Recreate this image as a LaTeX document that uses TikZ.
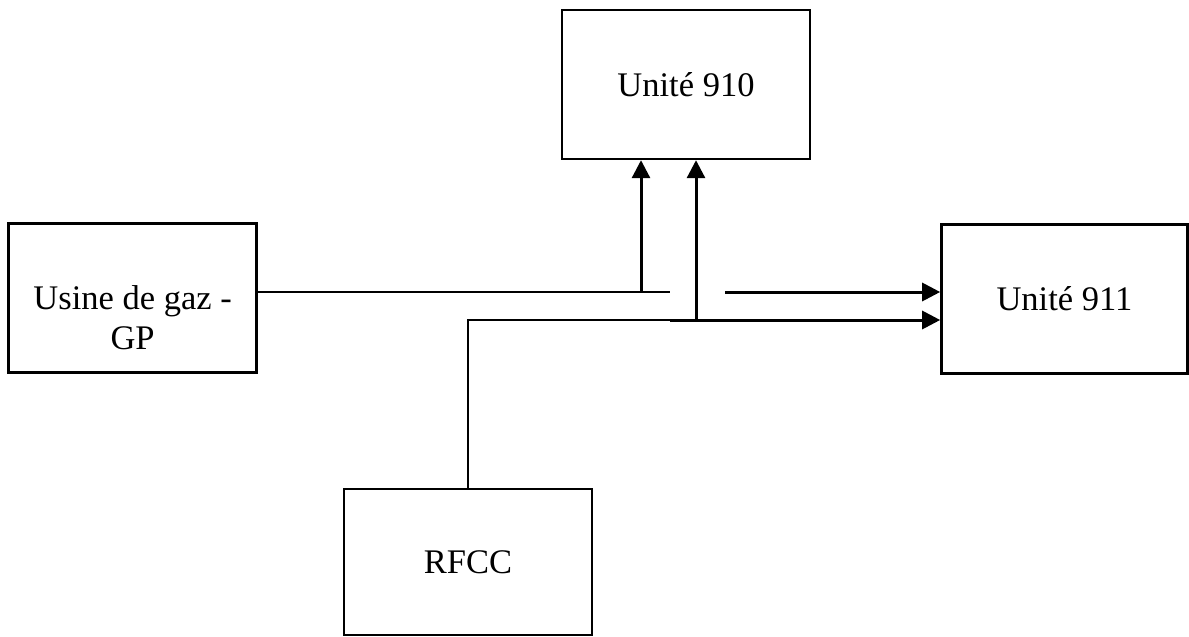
\documentclass[tikz,border=0pt]{standalone}
\usepackage{fontspec}
\setmainfont{Liberation Serif}
\usetikzlibrary{arrows.meta,positioning}
\tikzset{
  boxtxt/.style={align=center,font=\fontsize{17.25pt}{20pt}\selectfont},
  block/.style={draw,line width=1.2pt,minimum width=124pt,minimum height=74.5pt,inner sep=0pt,boxtxt},
  arr/.style={-{Triangle[length=9pt,width=9pt]},line width=1.5pt},
  pipe/.style={line width=1pt}
}

\begin{document}
\begin{tikzpicture}[x=0.5pt,y=-0.5pt]
 \useasboundingbox (0,0) rectangle (1189,637);
 \node[block] (u910) at (686,84.5) {Unité 910};
 \node[block,below left=31pt and 151.5pt of u910,
   label={[name=usinetxt,boxtxt,yshift=-10pt]center:Usine de gaz -\\GP}] (usine) {};
 \node[block,below right=31.5pt and 64.5pt of u910,minimum width=123pt] (u911) {Unité 911};
 \node[block,below right=57pt and 42.5pt of usine,minimum height=73pt] (rfcc) {RFCC};
 % junctions
 \coordinate (gptap) at (641,292);
 \coordinate (gpend) at (670,292);
 \coordinate (gpout) at (725,292);
 \coordinate (fcend) at (670,320);
 \coordinate (fctap) at (696,320);
 \draw[pipe] (usine.east |- gpend) -- (gpend);
 \draw[arr] (gptap) -- (gptap |- u910.south);
 \draw[arr] (gpout) -- (gpout -| u911.west);
 \draw[pipe] (rfcc.north) |- (fcend);
 \draw[arr] (fcend) -- (fcend -| u911.west);
 \draw[arr] (fctap) -- (fctap |- u910.south);
\end{tikzpicture}
\end{document}
